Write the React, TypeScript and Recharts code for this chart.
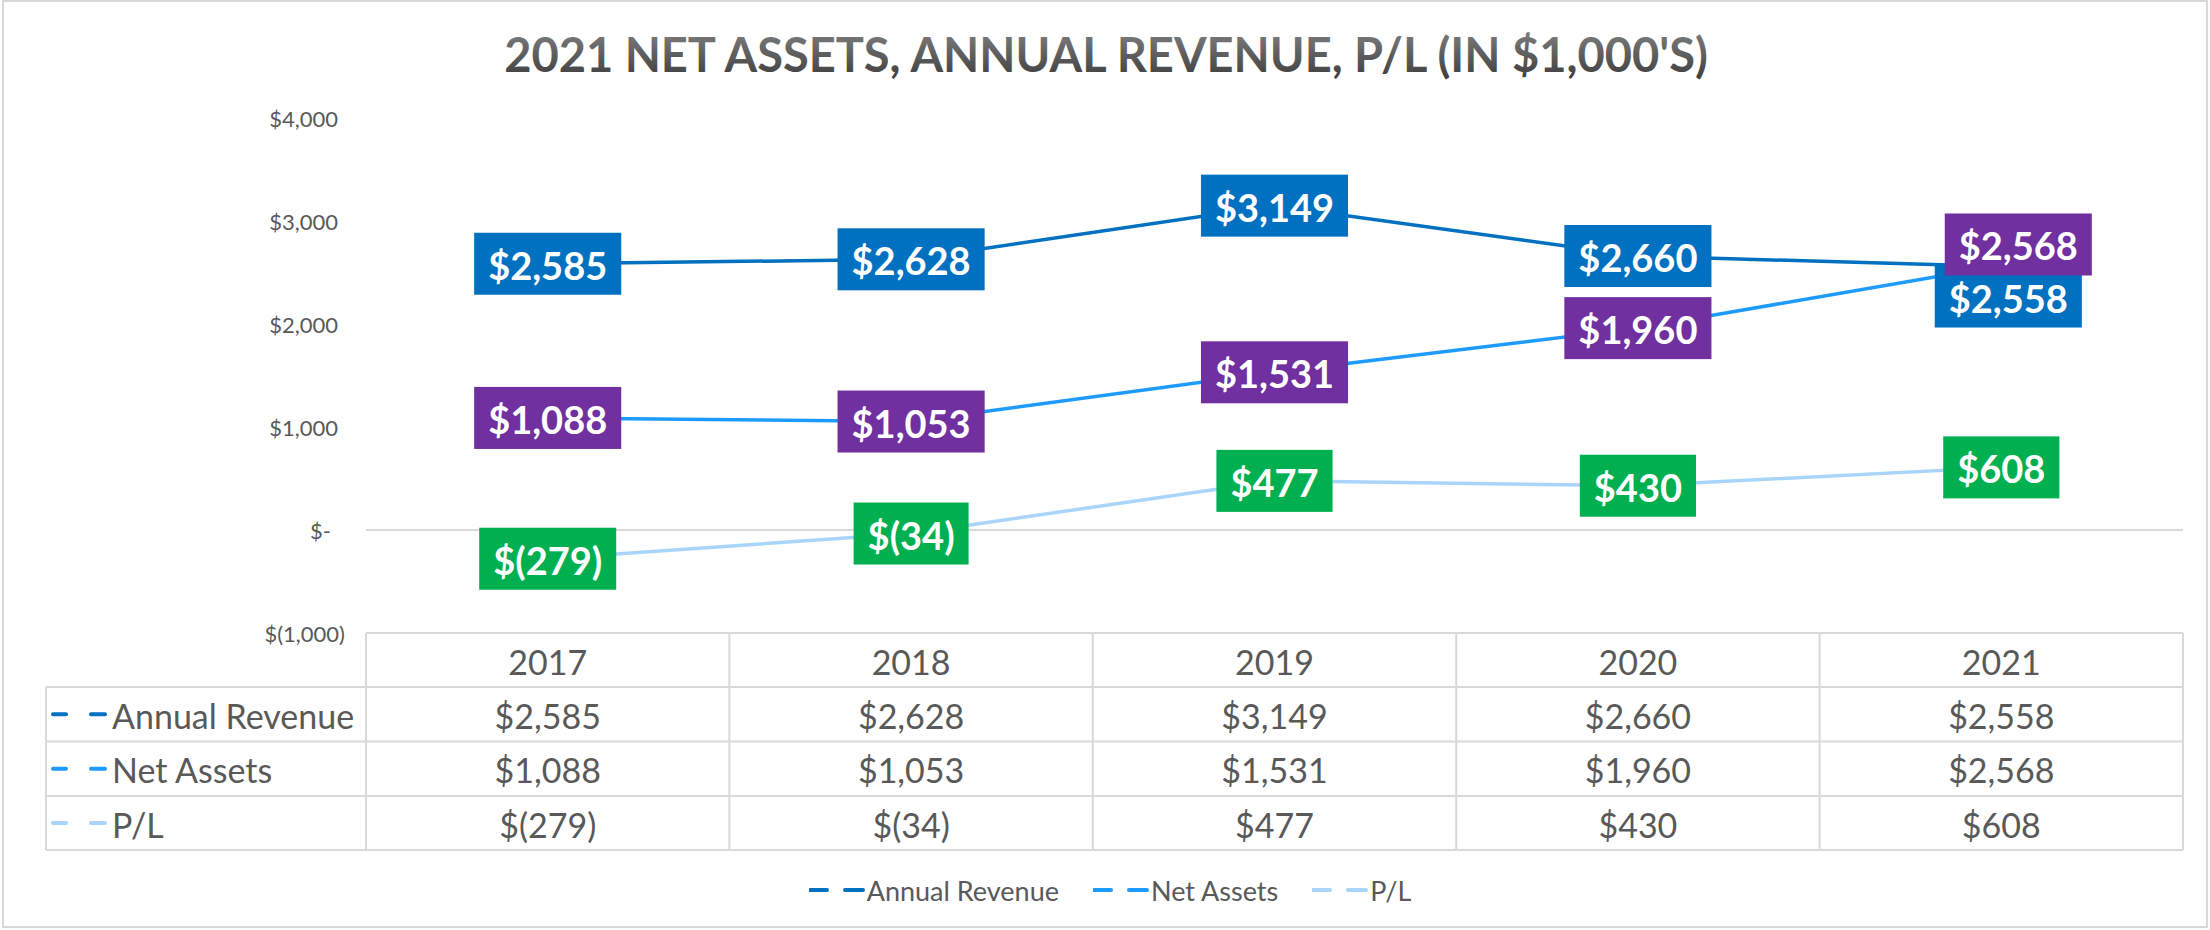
import React from 'react';
import { LineChart, Line, XAxis, YAxis, ReferenceLine, LabelList, Legend } from 'recharts';

// ---------- data ----------
const years = ['2017', '2018', '2019', '2020', '2021'];
const annualRevenue = [2585, 2628, 3149, 2660, 2558];
const netAssets = [1088, 1053, 1531, 1960, 2568];
const profitLoss = [-279, -34, 477, 430, 608];
const yTicks = [-1000, 0, 1000, 2000, 3000, 4000];
const seriesNames = ['Annual Revenue', 'Net Assets', 'P/L'];
const chartTitle = "2021 NET ASSETS, ANNUAL REVENUE, P/L (IN $1,000'S)";

const data = years.map((year, i) => ({
  year,
  ar: annualRevenue[i],
  na: netAssets[i],
  pl: profitLoss[i],
}));

// ---------- style / layout ----------
const CHART_W = 2210;
const CHART_H = 930;
const MARGIN = { top: 118, right: 27, bottom: 20, left: 0 };
const Y_W = 366;
const X_H = 237;
const LEGEND_H = 40;
const PLOT_W = CHART_W - MARGIN.right - MARGIN.left - Y_W;
const BAND = PLOT_W / years.length;
const TABLE_LEFT = 46;
const ROW_EDGES = [0, 54, 108.5, 163, 217];
const GRID = '#D9D9D9';
const TEXT = '#595959';
const FONT = 'Lato, "Open Sans", sans-serif';

const SERIES = [
  { key: 'ar', name: seriesNames[0], values: annualRevenue, line: '#0070C0', box: '#0070C0' },
  { key: 'na', name: seriesNames[1], values: netAssets, line: '#1E9BFF', box: '#7030A0' },
  { key: 'pl', name: seriesNames[2], values: profitLoss, line: '#A9D5FA', box: '#00B050' },
];

const LABEL_NUDGE: Record<string, Record<number, [number, number]>> = {
  ar: { 4: [7, 30] },
  na: { 4: [17, -21] },
};

const fmt = (v: number) =>
  v === 0
    ? '$-'
    : v < 0
    ? `$(${Math.abs(v).toLocaleString('en-US')})`
    : `$${v.toLocaleString('en-US')}`;

let ctx: CanvasRenderingContext2D | null = null;
const measure = (s: string, font: string) => {
  if (!ctx) ctx = document.createElement('canvas').getContext('2d');
  if (!ctx) return s.length * 22;
  ctx.font = font;
  return ctx.measureText(s).width;
};

const LABEL_FONT_SIZE = 38;

const makeLabel = (s: (typeof SERIES)[number]) => (props: any) => {
  const px = props.x ?? props.viewBox?.x;
  const py = props.y ?? props.viewBox?.y;
  const index = props.index;
  const value = props.value;
  if (px == null || py == null || value == null) return null;
  const [dx, dy] = LABEL_NUDGE[s.key]?.[index] ?? [0, 0];
  const text = fmt(Number(value));
  const w = measure(text, `700 ${LABEL_FONT_SIZE}px Lato`) + 28;
  const h = 62;
  const cx = px + dx;
  const cy = py + dy;
  return (
    <g>
      <rect x={cx - w / 2} y={cy - h / 2} width={w} height={h} fill={s.box} />
      <text
        x={cx}
        y={cy + 1}
        textAnchor="middle"
        dominantBaseline="central"
        fill="#FFFFFF"
        fontFamily={FONT}
        fontWeight={700}
        fontSize={LABEL_FONT_SIZE}
      >
        {text}
      </text>
    </g>
  );
};

const YTick = (props: any) => {
  const { x, y, payload } = props;
  const v = payload.value as number;
  const dx = v > 0 ? -7 : v === 0 ? -14 : 0;
  return (
    <text
      x={x + dx}
      y={y}
      textAnchor="end"
      dominantBaseline="central"
      fontFamily={FONT}
      fontSize={22}
      fill={TEXT}
    >
      {fmt(v)}
    </text>
  );
};

const KeyDashes = ({ x, y, color, w1 = 15, gap = 23, w2 = 16 }: any) => (
  <g stroke={color} strokeWidth={4} strokeLinecap="round">
    <line x1={x + 1} y1={y} x2={x + w1 - 1} y2={y} />
    <line x1={x + w1 + gap + 1} y1={y} x2={x + w1 + gap + w2 - 1} y2={y} />
  </g>
);

const TableTick = (props: any) => {
  const { x, y, payload, index } = props;
  const left = x - BAND / 2;
  const right = x + BAND / 2;
  const isLast = index === years.length - 1;
  const rowMid = (r: number) => y + (ROW_EDGES[r] + ROW_EDGES[r + 1]) / 2;
  const cells = [payload.value, ...SERIES.map((s) => fmt(s.values[index]))];
  return (
    <g>
      {ROW_EDGES.map((e, r) => (
        <line key={'h' + r} x1={left} x2={right} y1={y + e} y2={y + e} stroke={GRID} strokeWidth={2} />
      ))}
      <line x1={left} x2={left} y1={y} y2={y + ROW_EDGES[4]} stroke={GRID} strokeWidth={2} />
      {isLast && <line x1={right} x2={right} y1={y} y2={y + ROW_EDGES[4]} stroke={GRID} strokeWidth={2} />}
      {cells.map((c, r) => (
        <text
          key={'t' + r}
          x={x}
          y={rowMid(r) + 1}
          textAnchor="middle"
          dominantBaseline="central"
          fontFamily={FONT}
          fontSize={34}
          fill={TEXT}
        >
          {c}
        </text>
      ))}
      {index === 0 && (
        <g>
          {ROW_EDGES.slice(1).map((e, r) => (
            <line key={'lh' + r} x1={TABLE_LEFT} x2={left} y1={y + e} y2={y + e} stroke={GRID} strokeWidth={2} />
          ))}
          <line x1={TABLE_LEFT} x2={TABLE_LEFT} y1={y + ROW_EDGES[1]} y2={y + ROW_EDGES[4]} stroke={GRID} strokeWidth={2} />
          {SERIES.map((s, r) => (
            <g key={'lbl' + r}>
              <KeyDashes x={TABLE_LEFT + 6} y={rowMid(r + 1)} color={s.line} />
              <text
                x={TABLE_LEFT + 66}
                y={rowMid(r + 1) + 1}
                dominantBaseline="central"
                fontFamily={FONT}
                fontSize={34}
                fill={TEXT}
              >
                {s.name}
              </text>
            </g>
          ))}
        </g>
      )}
    </g>
  );
};

const LegendContent = (props: any) => {
  const raw = (props.payload || []).filter((p: any) => p.type !== 'none' && !String(p.value).endsWith(' labels'));
  const items = raw.length
    ? raw.map((p: any) => ({ name: p.value, color: p.color }))
    : SERIES.map((s) => ({ name: s.name, color: s.line }));
  return (
    <div
      style={{
        display: 'flex',
        justifyContent: 'center',
        alignItems: 'center',
        height: LEGEND_H,
        width: CHART_W,
        paddingLeft: 10,
        boxSizing: 'border-box',
      }}
    >
      {items.map((it: any, i: number) => (
        <div key={i} style={{ display: 'flex', alignItems: 'center', marginLeft: i === 0 ? 0 : 34 }}>
          <svg width={56} height={12} style={{ display: 'block' }}>
            <KeyDashes x={0} y={6} color={it.color} w1={19} gap={16} w2={20} />
          </svg>
          <span style={{ fontFamily: FONT, fontSize: 27, color: TEXT, marginLeft: 2, lineHeight: 1 }}>{it.name}</span>
        </div>
      ))}
    </div>
  );
};

export default function App() {
  return (
    <div style={{ position: 'relative', width: CHART_W, height: CHART_H, background: '#fff' }}>
      <style>{'body{margin:0;}'}</style>
      <LineChart width={CHART_W} height={CHART_H} data={data} margin={MARGIN}>
        <XAxis
          dataKey="year"
          type="category"
          height={X_H}
          padding={{ left: BAND / 2, right: BAND / 2 }}
          axisLine={false}
          tickLine={false}
          tickSize={0}
          tickMargin={0}
          interval={0}
          tick={(p: any) => <TableTick {...p} />}
        />
        <YAxis
          width={Y_W}
          domain={[-1000, 4000]}
          ticks={yTicks}
          type="number"
          allowDataOverflow
          axisLine={false}
          tickLine={false}
          tickSize={0}
          tickMargin={21}
          interval={0}
          tick={(p: any) => <YTick {...p} />}
        />
        <ReferenceLine y={0} stroke={GRID} strokeWidth={2} />
        {SERIES.map((s) => (
          <Line
            key={s.key}
            dataKey={s.key}
            name={s.name}
            type="linear"
            stroke={s.line}
            strokeWidth={3.5}
            dot={false}
            activeDot={false}
            isAnimationActive={false}
          />
        ))}
        {SERIES.map((s) => (
          <Line
            key={s.key + '-labels'}
            dataKey={s.key}
            name={s.name + ' labels'}
            type="linear"
            stroke="none"
            dot={false}
            activeDot={false}
            legendType="none"
            isAnimationActive={false}
          >
            <LabelList dataKey={s.key} content={makeLabel(s)} />
          </Line>
        ))}
        <Legend
          verticalAlign="bottom"
          height={LEGEND_H}
          wrapperStyle={{ left: 0, width: CHART_W }}
          content={(p: any) => <LegendContent {...p} />}
        />
      </LineChart>
      <svg
        width={CHART_W}
        height={110}
        style={{ position: 'absolute', left: 0, top: 0, pointerEvents: 'none' }}
      >
        <defs>
          <linearGradient id="titleGrad" x1="0" y1="0" x2="0" y2="1">
            <stop offset="0%" stopColor="#848484" />
            <stop offset="100%" stopColor="#3A3A3A" />
          </linearGradient>
        </defs>
        <text
          x={1106}
          y={72}
          textAnchor="middle"
          fontFamily={FONT}
          fontWeight={700}
          fontSize={47}
          fill="url(#titleGrad)"
        >
          {chartTitle}
        </text>
      </svg>
      <div
        style={{
          position: 'absolute',
          left: 2,
          top: 0,
          width: CHART_W - 4,
          height: CHART_H - 2,
          border: `2px solid ${GRID}`,
          boxSizing: 'border-box',
          pointerEvents: 'none',
        }}
      />
    </div>
  );
}
